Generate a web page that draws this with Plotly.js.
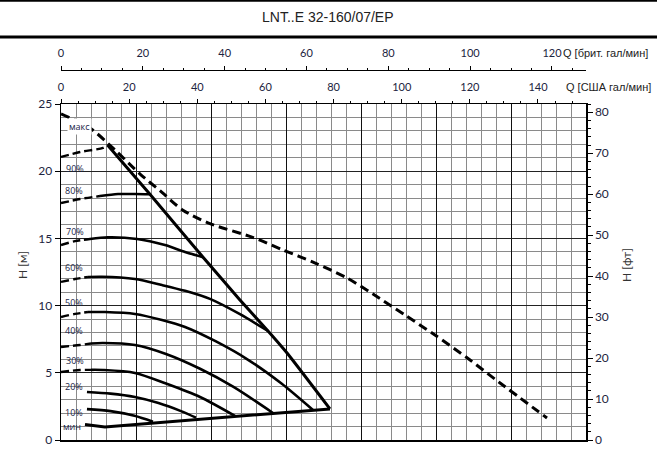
<!DOCTYPE html>
<html>
<head>
<meta charset="utf-8">
<script src="https://cdn.plot.ly/plotly-3.0.1.min.js"></script>
<style>html,body{margin:0;padding:0;background:#fff;}</style>
</head>
<body>
<div id="chart" style="width:657px;height:452px;"></div>
<script>
// ---- data (Q in m3/h, H in m) ----
const Q_MAX = [0, 1.93, 3.6, 5.27, 6.6, 8.13, 9.93, 12.73, 14.8, 16.8, 19.07, 20.8, 22.93, 24.93, 27.27, 29.27, 32.4];
const H_MAX = [24.26, 23.21, 21.58, 19.79, 18.55, 17.1, 16.1, 15.1, 14.14, 13.24, 12.05, 10.86, 9.3, 7.81, 5.95, 4.24, 1.64];

const Q_LIMIT = [3.1, 5.93, 9.47, 11.93, 13.8, 15.07, 17.93];
const H_LIMIT = [21.95, 18.28, 13.6, 10.42, 8.11, 6.47, 2.31];

const Q_MIN = [1.6, 2.93, 17.93];
const H_MIN = [1.15, 0.97, 2.31];

const Q90_DASH = [0, 1.27, 2.8, 3.1];
const H90_DASH = [21.06, 21.43, 21.73, 21.95];

const Q80_DASH = [0, 1.27, 2.6];
const H80_DASH = [17.63, 17.93, 18.15];
const Q80 = [2.6, 3.8, 4.93, 5.93];
const H80 = [18.15, 18.3, 18.3, 18.28];

const Q70_DASH = [0, 0.93, 1.93];
const H70_DASH = [14.5, 14.8, 14.96];
const Q70 = [1.93, 3.13, 5.07, 6.93, 8.27, 9.47];
const H70 = [14.96, 15.08, 14.96, 14.5, 13.99, 13.6];

const Q60_DASH = [0, 0.93, 1.8];
const H60_DASH = [11.76, 11.98, 12.13];
const Q60 = [1.8, 2.73, 4.93, 6.73, 8.27, 9.93, 11.93, 13.8];
const H60 = [12.13, 12.15, 11.98, 11.53, 11.1, 10.5, 9.36, 8.11];

const Q50_DASH = [0, 0.93, 1.8];
const H50_DASH = [9.15, 9.38, 9.52];
const Q50 = [1.8, 2.93, 4.93, 6.73, 8.27, 10.3, 12.5, 14.7, 16.8];
const H50 = [9.52, 9.52, 9.38, 8.93, 8.41, 7.35, 5.95, 4.2, 2.23];

const Q40_DASH = [0, 1.27, 2.0];
const H40_DASH = [6.92, 7.07, 7.18];
const Q40 = [2.0, 2.8, 4.93, 7.0, 9.27, 11.5, 14.13];
const H40 = [7.18, 7.22, 7.07, 6.4, 5.3, 3.95, 2.01];

const Q30_DASH = [0, 1.27, 2.0];
const H30_DASH = [5.06, 5.21, 5.22];
const Q30 = [2.0, 2.8, 4.93, 7.0, 9.27, 11.6];
const H30 = [5.22, 5.21, 4.99, 4.2, 3.2, 1.79];

const Q20 = [1.73, 3.3, 4.93, 6.5, 8.0, 9.0];
const H20 = [3.57, 3.45, 3.2, 2.75, 2.15, 1.66];

const Q10 = [1.73, 3.3, 4.9, 6.13];
const H10 = [2.3, 2.15, 1.8, 1.36];

const CURVE_LABELS = ['макс', '90%', '80%', '70%', '60%', '50%', '40%', '30%', '20%', '10%', 'мин'];
const LABEL_Q = [1.2, 0.93, 0.85, 0.93, 0.85, 0.85, 0.85, 0.9, 0.85, 0.85, 0.7];
const LABEL_H = [23.35, 20.2, 18.6, 15.5, 12.85, 10.2, 8.15, 5.9, 3.95, 2.08, 1.0];

const TITLE = 'LNT..E 32-160/07/EP';
const X_UK_TITLE = 'Q [брит. гал/мин]';
const X_US_TITLE = 'Q [США гал/мин]';
const Y_M_TITLE = 'H [м]';
const Y_FT_TITLE = 'H [фт]';

// unit conversions
const M3H_PER_USGPM = 0.2271247;
const M3H_PER_UKGPM = 0.2727655;
const M_PER_FT = 0.3048;
const Q_RANGE = [0, 35];
const H_RANGE = [0, 25];

// ---- drawing ----
const tickColor = '#1c2440';
const solid = {color: '#000', width: 2.6, shape: 'spline', smoothing: 0.8};
const dashed = {color: '#000', width: 2.4, dash: '8px,4px', shape: 'spline', smoothing: 0.8};

function tr(x, y, line) {
  return {x: x, y: y, type: 'scatter', mode: 'lines', line: line, hoverinfo: 'skip', xaxis: 'x', yaxis: 'y'};
}

const traces = [
  tr(Q90_DASH, H90_DASH, dashed),
  tr(Q80_DASH, H80_DASH, dashed), tr(Q80, H80, solid),
  tr(Q70_DASH, H70_DASH, dashed), tr(Q70, H70, solid),
  tr(Q60_DASH, H60_DASH, dashed), tr(Q60, H60, solid),
  tr(Q50_DASH, H50_DASH, dashed), tr(Q50, H50, solid),
  tr(Q40_DASH, H40_DASH, dashed), tr(Q40, H40, solid),
  tr(Q30_DASH, H30_DASH, dashed), tr(Q30, H30, solid),
  tr(Q20, H20, solid),
  tr(Q10, H10, solid),
  tr(Q_MIN, H_MIN, {color: '#000', width: 3}),
  tr(Q_LIMIT, H_LIMIT, {color: '#000', width: 3, shape: 'spline', smoothing: 0.5}),
  tr(Q_MAX, H_MAX, {color: '#000', width: 3, dash: '9px,5px', shape: 'spline', smoothing: 0.8}),
  // carriers for the secondary axes
  {x: [0], y: [0], type: 'scatter', mode: 'markers', marker: {opacity: 0}, hoverinfo: 'skip', xaxis: 'x2', yaxis: 'y'},
  {x: [0], y: [0], type: 'scatter', mode: 'markers', marker: {opacity: 0}, hoverinfo: 'skip', xaxis: 'x3', yaxis: 'y'},
  {x: [0], y: [0], type: 'scatter', mode: 'markers', marker: {opacity: 0}, hoverinfo: 'skip', xaxis: 'x', yaxis: 'y2'}
];

const W = 657, H = 452;
const L = 61, R = 71, T = 70, B = 12;
const plotW = W - L - R, paperH = H - T - B;
const px2x = px => (px - L) / plotW;
const py2y = py => (H - B - py) / paperH;

const annotations = CURVE_LABELS.map((t, i) => ({
  x: LABEL_Q[i], y: LABEL_H[i], xref: 'x', yref: 'y', text: t, showarrow: false,
  xanchor: 'center', yanchor: 'middle',
  font: {family: '"Open Sans", "Liberation Sans", sans-serif', size: 9, color: '#1a2548'},
  bgcolor: i === 0 ? '#ffffff' : 'rgba(0,0,0,0)'
}));

annotations.push(
  {x: px2x(328), y: py2y(17), xref: 'paper', yref: 'paper', xanchor: 'center', yanchor: 'middle', text: TITLE, showarrow: false,
   font: {family: '"Liberation Sans", Arial, sans-serif', size: 14, color: '#222'}},
  {x: px2x(561), y: py2y(53), xref: 'paper', yref: 'paper', xanchor: 'left', yanchor: 'middle', text: X_UK_TITLE, showarrow: false,
   font: {family: '"Liberation Sans", Arial, sans-serif', size: 11, color: '#222'}},
  {x: px2x(564), y: py2y(87), xref: 'paper', yref: 'paper', xanchor: 'left', yanchor: 'middle', text: X_US_TITLE, showarrow: false,
   font: {family: '"Liberation Sans", Arial, sans-serif', size: 11, color: '#222'}},
  {x: px2x(22), y: py2y(265), xref: 'paper', yref: 'paper', xanchor: 'center', yanchor: 'middle', text: Y_M_TITLE, showarrow: false, textangle: -90,
   font: {family: 'Lato, "Liberation Sans", sans-serif', size: 12, color: '#333'}},
  {x: px2x(626), y: py2y(265), xref: 'paper', yref: 'paper', xanchor: 'center', yanchor: 'middle', text: Y_FT_TITLE, showarrow: false, textangle: -90,
   font: {family: 'Lato, "Liberation Sans", sans-serif', size: 12, color: '#333'}}
);

const shapes = [
  {type: 'line', xref: 'paper', yref: 'paper', x0: px2x(0), x1: px2x(W), y0: py2y(0.8), y1: py2y(0.8), line: {color: '#000', width: 2}},
  {type: 'line', xref: 'paper', yref: 'paper', x0: px2x(0), x1: px2x(W), y0: py2y(37), y1: py2y(37), line: {color: '#000', width: 3}}
];

const tickFont = {family: 'Lato, "Liberation Sans", sans-serif', size: 12, color: tickColor};
const topFont = {family: 'Lato, "Liberation Sans", sans-serif', size: 11, color: tickColor};

const layout = {
  width: W, height: H,
  margin: {l: L, r: R, t: T, b: B, pad: 0},
  paper_bgcolor: '#fff', plot_bgcolor: '#fff',
  showlegend: false,
  xaxis: {
    range: Q_RANGE, tick0: 0, dtick: 5, showgrid: true, gridcolor: '#111', gridwidth: 1,
    showticklabels: false, ticks: '', showline: true, linecolor: '#000', linewidth: 2, zeroline: false,
    minor: {dtick: 1, showgrid: true, gridcolor: '#8a8a8a', gridwidth: 1}, fixedrange: true
  },
  yaxis: {
    range: H_RANGE, domain: [0, (H - B - 104) / paperH], tick0: 0, dtick: 5,
    showgrid: true, gridcolor: '#222', gridwidth: 1, ticks: 'outside', ticklen: 5, tickcolor: '#000',
    showline: true, linecolor: '#000', linewidth: 1.5, zeroline: false, tickfont: tickFont,
    minor: {dtick: 1, showgrid: true, gridcolor: '#8a8a8a', gridwidth: 1}, fixedrange: true
  },
  xaxis2: {
    overlaying: 'x', anchor: 'y', side: 'top', range: [0, Q_RANGE[1] / M3H_PER_USGPM],
    tick0: 0, dtick: 20, ticks: 'outside', ticklen: 4, tickcolor: '#000', showgrid: false, zeroline: false,
    showline: true, linecolor: '#000', linewidth: 1.5, tickfont: topFont, ticklabelstandoff: 3,
    minor: {dtick: 5, ticks: 'outside', ticklen: 2, tickcolor: '#000', showgrid: false}, fixedrange: true
  },
  xaxis3: {
    overlaying: 'x', anchor: 'free', position: 1, side: 'top', range: [0, Q_RANGE[1] / M3H_PER_UKGPM],
    tick0: 0, dtick: 20, ticks: 'outside', ticklen: 4, tickcolor: '#000', showgrid: false, zeroline: false,
    showline: true, linecolor: '#000', linewidth: 1, tickfont: topFont, ticklabelstandoff: 5,
    minor: {dtick: 5, ticks: 'outside', ticklen: 2, tickcolor: '#000', showgrid: false}, fixedrange: true
  },
  yaxis2: {
    overlaying: 'y', anchor: 'x', side: 'right', range: [0, H_RANGE[1] / M_PER_FT],
    tick0: 0, dtick: 10, ticks: 'outside', ticklen: 5, tickcolor: '#000', showgrid: false, zeroline: false,
    showline: true, linecolor: '#000', linewidth: 1.5, tickfont: tickFont,
    minor: {dtick: 2, ticks: 'outside', ticklen: 3, tickcolor: '#000', showgrid: false}, fixedrange: true
  },
  annotations: annotations,
  shapes: shapes
};

Plotly.newPlot('chart', traces, layout, {staticPlot: true, displayModeBar: false});
</script>
</body>
</html>
